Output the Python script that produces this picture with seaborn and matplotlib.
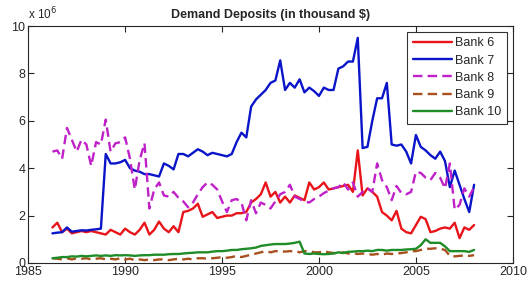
import numpy as np
import pandas as pd
import matplotlib
matplotlib.use("Agg")
import matplotlib.pyplot as plt
import seaborn as sns

# quarterly observations, 1986 Q2 .. 2008 Q1 (values in millions)
years = np.arange(1986.25, 2008.01, 0.25)

bank6 = [1.5, 1.7, 1.3, 1.45, 1.25, 1.3, 1.35, 1.3, 1.35, 1.3, 1.25, 1.2,
         1.4, 1.3, 1.2, 1.45, 1.3, 1.2, 1.4, 1.7, 1.2, 1.4, 1.75, 1.45,
         1.3, 1.55, 1.3, 2.15, 2.2, 2.3, 2.5, 1.95, 2.05, 2.15, 1.9, 1.95,
         2.0, 2.0, 2.1, 2.1, 2.15, 2.55, 2.7, 2.9, 3.4, 2.8, 3.0, 2.55,
         2.8, 2.55, 2.85, 2.75, 2.65, 3.4, 3.1, 3.2, 3.4, 3.1, 3.15, 3.2,
         3.25, 3.3, 3.0, 4.75, 2.85, 3.15, 3.0, 2.8, 2.15, 2.0, 1.8, 2.2,
         1.45, 1.3, 1.25, 1.6, 1.95, 1.85, 1.3, 1.35, 1.45, 1.5, 1.45, 1.7,
         1.05, 1.5, 1.4, 1.6]
bank7 = [1.25, 1.28, 1.3, 1.5, 1.32, 1.35, 1.38, 1.37, 1.4, 1.42, 1.45, 4.6,
         4.2, 4.2, 4.25, 4.35, 4.0, 3.9, 3.85, 3.75, 3.75, 3.7, 3.65, 4.2,
         4.1, 3.95, 4.6, 4.6, 4.5, 4.65, 4.8, 4.7, 4.55, 4.65, 4.6, 4.55,
         4.5, 4.6, 5.1, 5.5, 5.3, 6.6, 6.9, 7.1, 7.3, 7.6, 7.7, 8.55,
         7.3, 7.6, 7.4, 7.75, 7.2, 7.4, 7.25, 7.05, 7.4, 7.3, 7.3, 8.2,
         8.3, 8.5, 8.5, 9.5, 4.85, 4.9, 6.0, 6.95, 6.95, 7.6, 5.0, 4.95,
         5.0, 4.7, 4.2, 5.4, 4.9, 4.75, 4.55, 4.4, 4.7, 4.3, 3.2, 3.9,
         3.3, 2.7, 2.15, 3.3]
bank8 = [4.7, 4.75, 4.4, 5.7, 5.2, 4.7, 5.2, 5.0, 4.1, 5.1, 5.0, 6.05,
         4.7, 5.05, 5.1, 5.3, 4.4, 3.1, 4.35, 5.05, 2.3, 3.1, 3.4, 2.85,
         2.8, 3.0, 2.75, 2.6, 2.35, 2.55, 2.9, 3.2, 3.4, 3.3, 3.1, 2.6,
         2.15, 2.65, 2.7, 2.55, 1.8, 2.65, 2.1, 2.55, 2.45, 2.3, 2.6, 2.9,
         3.0, 3.3, 2.8, 2.7, 2.6, 2.55, 2.7, 2.8, 2.95, 3.05, 3.15, 3.2,
         3.4, 3.1, 3.4, 2.8, 3.0, 3.15, 3.0, 4.2, 3.5, 3.2, 2.65, 3.25,
         2.95, 2.9, 3.0, 3.85, 3.8, 3.6, 3.5, 3.8, 3.6, 3.15, 4.2, 2.25,
         2.45, 3.15, 2.8, 3.2]
bank9 = [0.2, 0.18, 0.15, 0.2, 0.15, 0.2, 0.18, 0.2, 0.15, 0.18, 0.2, 0.15,
         0.18, 0.15, 0.2, 0.15, 0.18, 0.12, 0.15, 0.12, 0.15, 0.12, 0.15, 0.15,
         0.12, 0.15, 0.18, 0.15, 0.18, 0.15, 0.2, 0.2, 0.18, 0.2, 0.22, 0.25,
         0.22, 0.25, 0.3, 0.25, 0.3, 0.35, 0.4, 0.45, 0.5, 0.45, 0.5, 0.5,
         0.48, 0.5, 0.5, 0.45, 0.5, 0.5, 0.45, 0.45, 0.5, 0.45, 0.42, 0.4,
         0.45, 0.4, 0.42, 0.38, 0.4, 0.38, 0.35, 0.38, 0.35, 0.4, 0.38, 0.4,
         0.42, 0.45, 0.5, 0.5, 0.55, 0.6, 0.6, 0.62, 0.6, 0.55, 0.3, 0.28,
         0.3, 0.32, 0.3, 0.33]
bank10 = [0.2, 0.22, 0.25, 0.25, 0.28, 0.27, 0.3, 0.28, 0.3, 0.32, 0.3, 0.32,
          0.3, 0.33, 0.32, 0.33, 0.32, 0.3, 0.32, 0.33, 0.33, 0.35, 0.35, 0.35,
          0.37, 0.38, 0.38, 0.4, 0.42, 0.43, 0.45, 0.45, 0.45, 0.48, 0.5, 0.5,
          0.52, 0.55, 0.55, 0.58, 0.6, 0.62, 0.65, 0.72, 0.75, 0.78, 0.8, 0.8,
          0.8, 0.82, 0.85, 0.9, 0.4, 0.38, 0.4, 0.38, 0.37, 0.38, 0.4, 0.45,
          0.42, 0.47, 0.48, 0.5, 0.5, 0.52, 0.5, 0.55, 0.55, 0.52, 0.55, 0.55,
          0.55, 0.57, 0.58, 0.6, 0.75, 1.0, 0.85, 0.85, 0.85, 0.7, 0.5, 0.5,
          0.5, 0.5, 0.47, 0.55]

banks = ["Bank 6", "Bank 7", "Bank 8", "Bank 9", "Bank 10"]
series = [bank6, bank7, bank8, bank9, bank10]

df = pd.concat([pd.DataFrame({"Year": years, "Deposits": vals, "Bank": name})
                for name, vals in zip(banks, series)], ignore_index=True)

sns.set_style("ticks")
plt.rcParams["font.family"] = ["Liberation Sans", "DejaVu Sans"]

palette = {"Bank 6": "#e8141a", "Bank 7": "#0a14c8", "Bank 8": "#c020c8",
           "Bank 9": "#a8501e", "Bank 10": "#1e8c28"}
dashes = {"Bank 6": "", "Bank 7": "", "Bank 8": (4, 2.2),
          "Bank 9": (4, 2.2), "Bank 10": ""}

fig = plt.figure(figsize=(5.32, 2.89), dpi=100)
ax = fig.add_axes([0.053, 0.09, 0.911, 0.82])
sns.lineplot(data=df, x="Year", y="Deposits", hue="Bank", style="Bank",
             palette=palette, dashes=dashes, linewidth=1.7, ax=ax)

ax.set_xlim(1985, 2010)
ax.set_ylim(0, 10)
ax.set_xticks([1985, 1990, 1995, 2000, 2005, 2010])
ax.set_yticks([0, 2, 4, 6, 8, 10])
ax.tick_params(direction="in", top=True, right=True, labelsize=9, length=4,
               pad=2, width=0.8)
for s in ax.spines.values():
    s.set_linewidth(0.8)
ax.set_xlabel("")
ax.set_ylabel("")
ax.set_title("Demand Deposits (in thousand $)", fontsize=9,
             fontweight="bold", pad=6)
ax.text(0.0, 1.015, r"x 10$^6$", transform=ax.transAxes, fontsize=8.5,
        ha="left", va="bottom")

leg = ax.legend(loc="upper right", fontsize=9, frameon=True, fancybox=False,
                edgecolor="black", borderaxespad=0.45, handlelength=3.1,
                labelspacing=0.42, borderpad=0.45, handletextpad=0.3)
leg.get_frame().set_linewidth(0.8)

fig.savefig("out.png", dpi=100)
